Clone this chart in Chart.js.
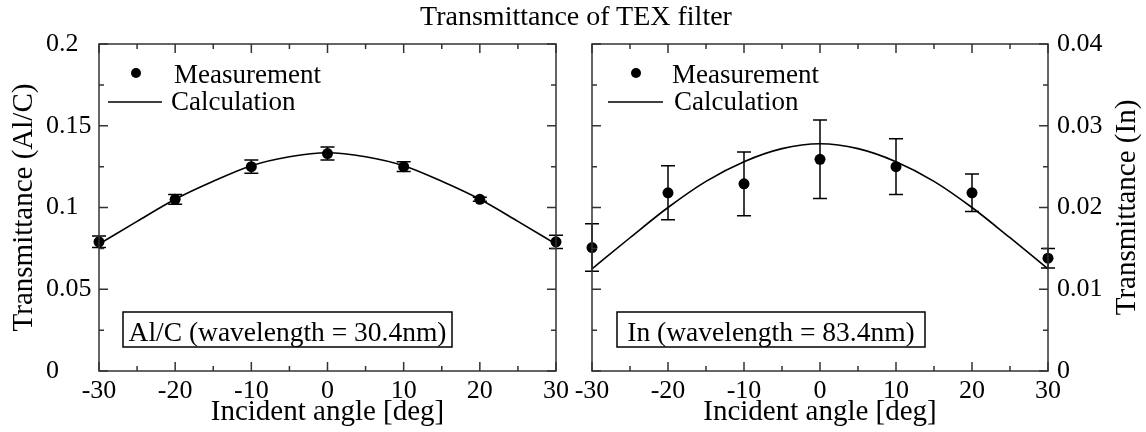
<!DOCTYPE html>
<html lang="en">
<head>
<meta charset="UTF-8">
<title>Transmittance of TEX filter</title>
<script src="https://cdn.jsdelivr.net/npm/chart.js"></script>
<style>
  body { margin: 0; background: #fff; }
  #wrap { position: relative; width: 1146px; height: 432px; }
  .panel { position: absolute; top: 0; width: 573px; height: 432px; }
  #title { position: absolute; left: 3px; top: 0; width: 1146px; text-align: center;
           font: 28px 'Liberation Serif', serif; line-height: 32px; color: #000; }
</style>
</head>
<body>
<div id="wrap">
  <div class="panel" style="left:0"><canvas id="alc"></canvas></div>
  <div class="panel" style="left:573px"><canvas id="inn"></canvas></div>
  <div id="title">Transmittance of TEX filter</div>
</div>
<script>
// measured points (incident angle in deg)
const angles = [-30, -20, -10, 0, 10, 20, 30];
const alcMeasured = [0.079, 0.105, 0.125, 0.133, 0.125, 0.105, 0.079];
const alcError = [0.0035, 0.003, 0.004, 0.004, 0.003, 0.0012, 0.004];
const inMeasured = [0.0151, 0.0218, 0.0229, 0.0259, 0.0250, 0.0218, 0.0138];
const inError = [0.0029, 0.0033, 0.0039, 0.0048, 0.0034, 0.0023, 0.0012];

// calculated curves, read every 5 deg
const calcAngles = [-30, -25, -20, -15, -10, -5, 0, 5, 10, 15, 20, 25, 30];
const alcCalc = [0.0776, 0.0915, 0.105, 0.116, 0.1255, 0.131, 0.1335, 0.131, 0.1255, 0.116, 0.105, 0.0915, 0.0776];
const inCalc = [0.0125, 0.0163, 0.0200, 0.0232, 0.0256, 0.0272, 0.0278, 0.0272, 0.0256, 0.0232, 0.0200, 0.0163, 0.0125];

const xTickStep = 10;
const alcTickStep = 0.05;
const inTickStep = 0.01;

const FONT = "'Liberation Serif', 'Times New Roman', serif";

// error bars, frame with inner ticks, legend, label box, y title
const decor = {
  id: 'decor',
  afterDatasetsDraw(chart, args, o) {
    const { ctx, chartArea: a, scales: { x, y } } = chart;
    ctx.save();
    ctx.strokeStyle = '#000';
    ctx.lineWidth = 1.5;
    o.values.forEach((v, i) => {
      const px = x.getPixelForValue(angles[i]);
      const top = y.getPixelForValue(v + o.errors[i]);
      const bot = y.getPixelForValue(v - o.errors[i]);
      ctx.beginPath();
      ctx.moveTo(px, top); ctx.lineTo(px, bot);
      ctx.moveTo(px - 7, top); ctx.lineTo(px + 7, top);
      ctx.moveTo(px - 7, bot); ctx.lineTo(px + 7, bot);
      ctx.stroke();
    });

    ctx.strokeStyle = '#333';
    ctx.strokeRect(a.left, a.top, a.width, a.height);
    const marks = (scale) => {
      const vals = scale.ticks.map(t => t.value);
      const out = [];
      vals.forEach((v, i) => {
        out.push([scale.getPixelForValue(v), 9]);
        if (i < vals.length - 1) out.push([scale.getPixelForValue((v + vals[i + 1]) / 2), 5]);
      });
      return out;
    };
    ctx.beginPath();
    marks(x).forEach(([p, l]) => {
      ctx.moveTo(p, a.bottom); ctx.lineTo(p, a.bottom - l);
      ctx.moveTo(p, a.top); ctx.lineTo(p, a.top + l);
    });
    marks(y).forEach(([p, l]) => {
      ctx.moveTo(a.left, p); ctx.lineTo(a.left + l, p);
      ctx.moveTo(a.right, p); ctx.lineTo(a.right - l, p);
    });
    ctx.stroke();

    // legend
    const L = o.legend;
    ctx.fillStyle = '#000';
    ctx.beginPath();
    ctx.arc(a.left + L.marker, 73, 5, 0, Math.PI * 2);
    ctx.fill();
    ctx.strokeStyle = '#000';
    ctx.lineWidth = 1.5;
    ctx.beginPath();
    ctx.moveTo(a.left + L.line[0], 102); ctx.lineTo(a.left + L.line[1], 102);
    ctx.stroke();
    ctx.font = '27px ' + FONT;
    ctx.textAlign = 'left';
    ctx.textBaseline = 'alphabetic';
    ctx.fillText('Measurement', a.left + L.text1, 83);
    ctx.fillText('Calculation', a.left + L.text2, 110);

    // label box
    const B = o.box;
    ctx.lineWidth = 1.5;
    ctx.strokeRect(a.left + B.x, 312, B.w, 35);
    ctx.textAlign = 'center';
    ctx.font = '27.5px ' + FONT;
    ctx.fillText(B.text, a.left + B.x + B.w / 2, 341);

    // y axis title, reading bottom to top
    ctx.font = '29px ' + FONT;
    ctx.translate(o.yTitleX, (a.top + a.bottom) / 2);
    ctx.rotate(-Math.PI / 2);
    ctx.textBaseline = 'middle';
    ctx.fillText(o.yTitle, 0, 0);
    ctx.restore();
  }
};

function makeChart(id, measured, errors, calc, yMax, yStep, side) {
  const left = side === 'left';
  return new Chart(document.getElementById(id), {
    type: 'scatter',
    data: {
      datasets: [
        {
          label: 'Measurement',
          data: angles.map((a, i) => ({ x: a, y: measured[i] })),
          pointRadius: 5.5,
          pointBackgroundColor: '#000',
          pointBorderWidth: 0,
          clip: false
        },
        {
          label: 'Calculation',
          data: calcAngles.map((a, i) => ({ x: a, y: calc[i] })),
          showLine: true,
          pointRadius: 0,
          borderColor: '#000',
          borderWidth: 1.6,
          cubicInterpolationMode: 'monotone',
          clip: false
        }
      ]
    },
    options: {
      responsive: true,
      maintainAspectRatio: false,
      animation: false,
      layout: { padding: left ? { left: 46, top: 44, right: 17, bottom: 0 } : { left: 19, top: 44, right: 0, bottom: 0 } },
      plugins: {
        legend: { display: false },
        tooltip: { enabled: false },
        decor: left ? {
          values: measured, errors: errors,
          legend: { marker: 37, text1: 75, line: [9, 63], text2: 72 },
          box: { x: 24, w: 329, text: 'Al/C (wavelength = 30.4nm)' },
          yTitle: 'Transmittance (Al/C)', yTitleX: 24
        } : {
          values: measured, errors: errors,
          legend: { marker: 44, text1: 80, line: [16, 71], text2: 82 },
          box: { x: 25, w: 308, text: 'In (wavelength = 83.4nm)' },
          yTitle: 'Transmittance (In)', yTitleX: 554
        }
      },
      scales: {
        x: {
          type: 'linear',
          min: -30, max: 30,
          grid: { display: false, drawTicks: false },
          border: { display: false },
          ticks: { stepSize: xTickStep, color: '#000', font: { family: FONT, size: 26 }, padding: 5, maxRotation: 0 },
          title: { display: true, text: 'Incident angle [deg]', color: '#000', font: { family: FONT, size: 29 }, padding: { top: 0, bottom: 2 } },
          afterFit: s => { s.height = 61; s.paddingLeft = 0; s.paddingRight = 0; }
        },
        y: {
          type: 'linear',
          position: side,
          min: 0, max: yMax,
          grid: { display: false, drawTicks: false },
          border: { display: false },
          ticks: {
            stepSize: yStep, color: '#000', font: { family: FONT, size: 26 },
            crossAlign: left ? 'far' : 'near', padding: 9,
            callback: v => String(+v.toFixed(3))
          },
          afterFit: s => { s.width = left ? 53 : 98; s.paddingTop = 0; s.paddingBottom = 0; }
        }
      }
    },
    plugins: [decor]
  });
}

makeChart('alc', alcMeasured, alcError, alcCalc, 0.2, alcTickStep, 'left');
makeChart('inn', inMeasured, inError, inCalc, 0.04, inTickStep, 'right');
</script>
</body>
</html>
